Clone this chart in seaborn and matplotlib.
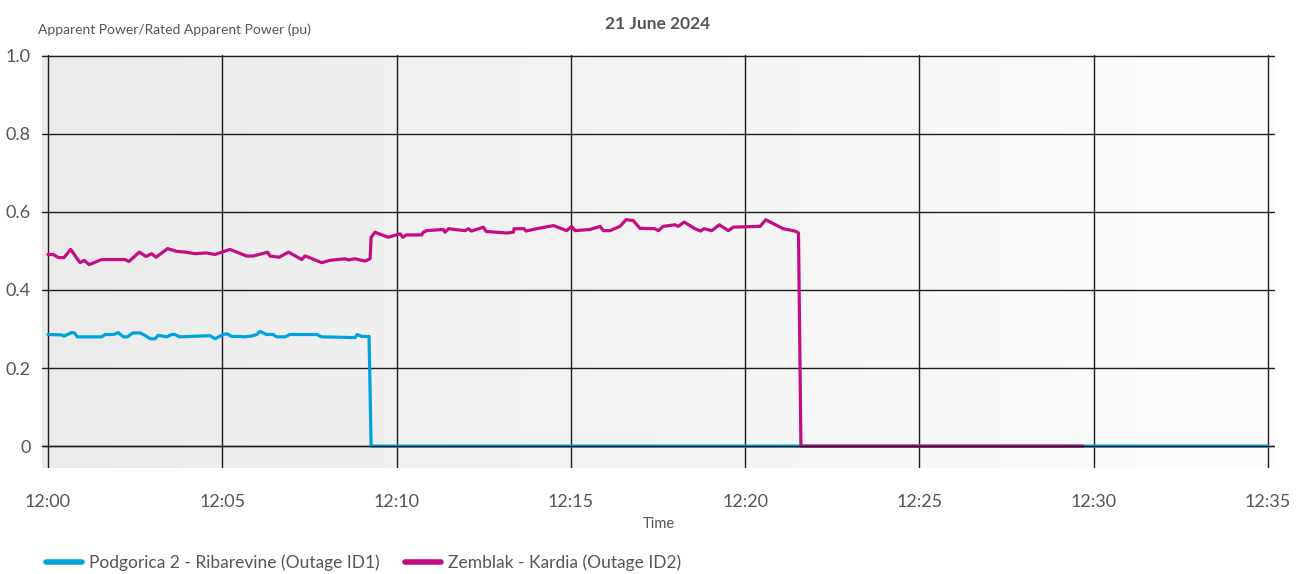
import matplotlib

matplotlib.use("Agg")

import matplotlib.dates as mdates
import matplotlib.pyplot as plt
import numpy as np
import pandas as pd
import seaborn as sns
from matplotlib.colors import LinearSegmentedColormap

START = pd.Timestamp("2024-06-21 12:00")
SERIES_NAMES = [
    "Podgorica 2 - Ribarevine (Outage ID1)",
    "Zemblak - Kardia (Outage ID2)",
]
COLORS = ["#00A3E0", "#C40C85"]
TEXT = "#555555"

# minutes after 12:00, values in pu
blue_minutes = [0, 0.39, 0.46, 0.68, 0.76, 0.84, 1.54, 1.64, 1.88, 2.02, 2.16, 2.28, 2.43, 2.64, 2.78,
                2.93, 3.07, 3.16, 3.40, 3.55, 3.64, 3.77, 4.65, 4.79, 5.03, 5.13, 5.27, 5.51, 5.60, 5.84,
                5.99, 6.08, 6.27, 6.46, 6.56, 6.80, 6.94, 7.71, 7.85, 8.81, 8.87, 9.00, 9.21, 9.27, 35.0]
blue_values = [0.286, 0.285, 0.282, 0.291, 0.290, 0.280, 0.280, 0.286, 0.286, 0.291, 0.280, 0.280, 0.290,
               0.290, 0.284, 0.275, 0.275, 0.284, 0.280, 0.286, 0.286, 0.280, 0.283, 0.275, 0.286, 0.288,
               0.281, 0.281, 0.280, 0.282, 0.286, 0.294, 0.286, 0.286, 0.280, 0.280, 0.286, 0.286, 0.280,
               0.278, 0.286, 0.281, 0.281, 0, 0]

magenta_minutes = [0, 0.15, 0.30, 0.46, 0.65, 0.92, 1.04, 1.18, 1.54, 2.21, 2.32, 2.62, 2.81, 2.97, 3.10,
                   3.43, 3.69, 3.95, 4.22, 4.55, 4.79, 5.22, 5.70, 5.89, 6.30, 6.37, 6.63, 6.90, 7.28, 7.37,
                   7.47, 7.85, 8.09, 8.52, 8.62, 8.81, 9.09, 9.24, 9.27, 9.38, 9.76, 10.10, 10.18, 10.27,
                   10.72, 10.77, 10.86, 11.34, 11.39, 11.49, 11.96, 12.06, 12.15, 12.49, 12.57, 13.16,
                   13.35, 13.37, 13.66, 13.71, 14.02, 14.50, 14.88, 15.02, 15.12, 15.55, 15.84, 15.93,
                   16.12, 16.41, 16.58, 16.79, 16.98, 17.41, 17.51, 17.65, 17.99, 18.08, 18.25, 18.56,
                   18.72, 18.82, 19.04, 19.26, 19.52, 19.66, 20.43, 20.59, 21.09, 21.43, 21.53, 21.60, 29.70]
magenta_values = [0.491, 0.491, 0.483, 0.483, 0.504, 0.470, 0.476, 0.465, 0.478, 0.478, 0.473, 0.497,
                  0.486, 0.493, 0.484, 0.506, 0.499, 0.497, 0.493, 0.495, 0.491, 0.504, 0.487, 0.487,
                  0.497, 0.487, 0.484, 0.497, 0.478, 0.487, 0.484, 0.470, 0.476, 0.480, 0.477, 0.480,
                  0.474, 0.480, 0.535, 0.548, 0.535, 0.544, 0.535, 0.541, 0.541, 0.548, 0.552, 0.555,
                  0.548, 0.557, 0.552, 0.557, 0.551, 0.561, 0.550, 0.546, 0.548, 0.557, 0.557, 0.551,
                  0.557, 0.565, 0.552, 0.563, 0.552, 0.555, 0.563, 0.552, 0.552, 0.563, 0.580, 0.578,
                  0.558, 0.557, 0.552, 0.563, 0.567, 0.563, 0.574, 0.557, 0.551, 0.557, 0.552, 0.567,
                  0.552, 0.561, 0.563, 0.580, 0.557, 0.551, 0.546, 0, 0]

y_ticks = [0, 0.2, 0.4, 0.6, 0.8, 1.0]
y_tick_labels = ["0", "0.2", "0.4", "0.6", "0.8", "1.0"]
x_tick_minutes = [0, 5, 10, 15, 20, 25, 30, 35]


def to_time(minutes):
    return START + pd.to_timedelta(minutes, unit="min")


frames = []
for name, minutes, values in [
    (SERIES_NAMES[0], blue_minutes, blue_values),
    (SERIES_NAMES[1], magenta_minutes, magenta_values),
]:
    frames.append(pd.DataFrame({"time": to_time(minutes), "value": values, "series": name}))
df = pd.concat(frames, ignore_index=True)

sns.set_theme(style="white")
plt.rcParams["font.family"] = ["Lato", "DejaVu Sans"]

fig = plt.figure(figsize=(13.04, 5.74), dpi=100)
ax = fig.add_axes([42 / 1304, 106 / 574, 1233 / 1304, 413 / 574])

# soft left-to-right background gradient
bg = LinearSegmentedColormap.from_list("bg", ["#ebebeb", "#fdfdfd"])
ax.imshow(np.linspace(0, 1, 256)[None, :], cmap=bg, aspect="auto",
          extent=[0, 1, 0, 1], transform=ax.transAxes, zorder=0)

sns.lineplot(
    data=df, x="time", y="value", hue="series", palette=dict(zip(SERIES_NAMES, COLORS)),
    estimator=None, sort=False, linewidth=2.3, ax=ax, zorder=3,
)
ax.axhline(0, color="#1e1e1e", linewidth=1.0, zorder=4)

ax.set_xlim(to_time(-0.172), to_time(35.2))
ax.set_ylim(-0.056, 1.002)
ax.set_xticks(to_time(x_tick_minutes))
ax.xaxis.set_major_formatter(mdates.DateFormatter("%H:%M"))
ax.set_yticks(y_ticks)
ax.set_yticklabels(y_tick_labels)
ax.grid(True, color="#1e1e1e", linewidth=1.0, zorder=1)
ax.set_axisbelow(True)
for spine in ax.spines.values():
    spine.set_visible(False)
ax.tick_params(axis="x", length=7, width=1, color="#1e1e1e", labelsize=13, labelcolor=TEXT, pad=12)
ax.tick_params(axis="y", length=5, width=1, color="#1e1e1e", labelsize=13, labelcolor=TEXT, pad=3)
ax.set_xlabel("Time", fontsize=10.5, color=TEXT, labelpad=5)
ax.set_ylabel("")

fig.text(38 / 1304, 1 - 30 / 574, "Apparent Power/Rated Apparent Power (pu)", fontsize=10,
         color=TEXT, ha="left", va="center")
fig.text(658 / 1304, 1 - 24 / 574, "21 June 2024", fontsize=12.5, fontweight="bold",
         color=TEXT, ha="center", va="center")

handles, labels = ax.get_legend_handles_labels()
ax.legend_.remove()
leg = fig.legend(handles, labels, loc="center left", bbox_to_anchor=(30 / 1304, 1 - 563 / 574),
                 ncol=2, frameon=False, fontsize=12.5, handlelength=2.1, columnspacing=1.45,
                 handletextpad=0.4)
for line in leg.get_lines():
    line.set_linewidth(4)
for text in leg.get_texts():
    text.set_color(TEXT)

fig.savefig("out.png", dpi=100)
